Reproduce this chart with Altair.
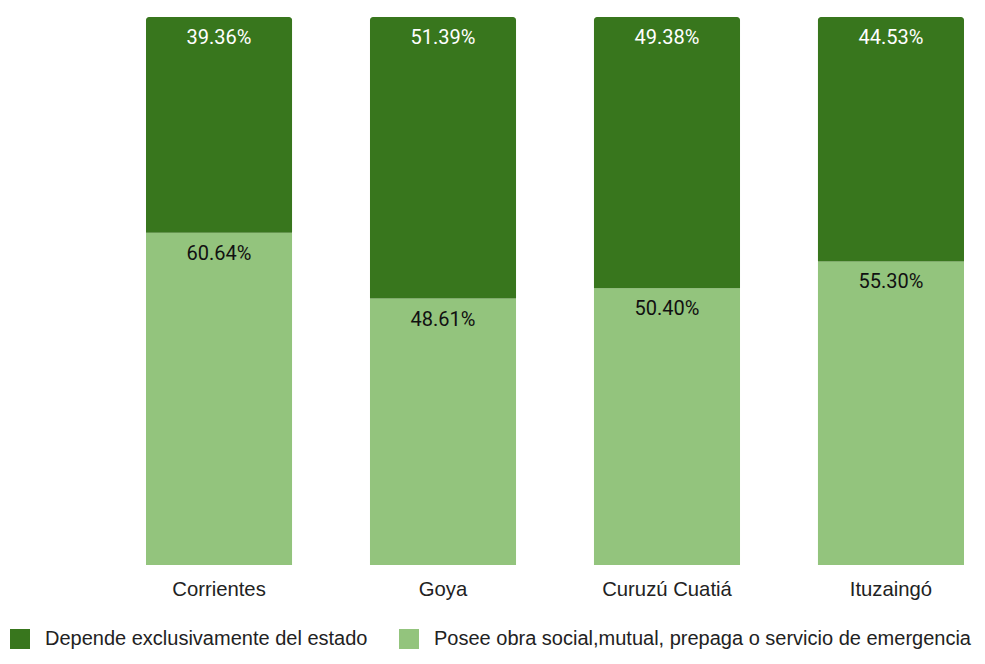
import altair as alt
import pandas as pd

categories = ["Corrientes", "Goya", "Curuzú Cuatiá", "Ituzaingó"]
series_names = [
    "Depende exclusivamente del estado",
    "Posee obra social,mutual, prepaga o servicio de emergencia",
]
depende = [39.36, 51.39, 49.38, 44.53]
posee = [60.64, 48.61, 50.40, 55.30]
colors = ["#38761d", "#93c47d"]

rows = []
for i, c in enumerate(categories):
    rows.append({"cat": c, "series": series_names[1], "value": posee[i], "order": 0})
    rows.append({"cat": c, "series": series_names[0], "value": depende[i], "order": 1})
df = pd.DataFrame(rows)
df["label"] = df["value"].map(lambda v: f"{v:.2f}%")

base = alt.Chart(df).transform_stack(
    stack="value",
    groupby=["cat"],
    as_=["y0", "y1"],
    offset="normalize",
    sort=[alt.SortField(field="order", order="ascending")],
)

x = alt.X(
    "cat:N",
    sort=categories,
    title=None,
    scale=alt.Scale(paddingInner=0.348, paddingOuter=0),
    axis=alt.Axis(
        labelAngle=0,
        domain=False,
        ticks=False,
        tickSize=0,
        grid=False,
        labelPadding=14,
        labelFont="Liberation Sans",
        labelFontSize=20.3,
        labelColor="#222222",
    ),
)
yscale = alt.Scale(domain=[0, 1], nice=False, zero=True)

color = alt.Color(
    "series:N",
    scale=alt.Scale(domain=series_names, range=colors),
    legend=alt.Legend(
        title=None,
        orient="none",
        legendX=-136,
        legendY=612,
        direction="horizontal",
        symbolType="square",
        symbolSize=400,
        symbolStrokeWidth=0,
        labelFont="Liberation Sans",
        labelFontSize=20,
        labelColor="#222222",
        labelOffset=15,
        columnPadding=31,
        padding=0,
        labelLimit=0,
    ),
)

bars_low = base.transform_filter(alt.datum.order == 0).mark_bar().encode(
    x=x,
    y=alt.Y("y0:Q", scale=yscale, axis=None),
    y2="y1:Q",
    color=color,
)
bars_top = base.transform_filter(alt.datum.order == 1).mark_bar(
    cornerRadiusTopLeft=3, cornerRadiusTopRight=3
).encode(
    x=x,
    y=alt.Y("y0:Q", scale=yscale, axis=None),
    y2="y1:Q",
    color=color,
)
labels = base.mark_text(font="Roboto", fontSize=20, dy=21, baseline="middle").encode(
    x=x,
    y=alt.Y("y1:Q", scale=yscale, axis=None),
    text="label:N",
    color=alt.condition(
        alt.datum.order == 1, alt.value("#ffffff"), alt.value("#111111")
    ),
)

chart = (
    alt.layer(bars_low, bars_top, labels)
    .properties(
        width=818,
        height=548,
        autosize=alt.AutoSizeParams(type="none"),
        padding={"left": 138, "top": 9, "right": 13, "bottom": 91},
    )
    .configure_view(stroke=None)
)

chart.save("out.html", embed_options={"renderer": "svg", "actions": False})
